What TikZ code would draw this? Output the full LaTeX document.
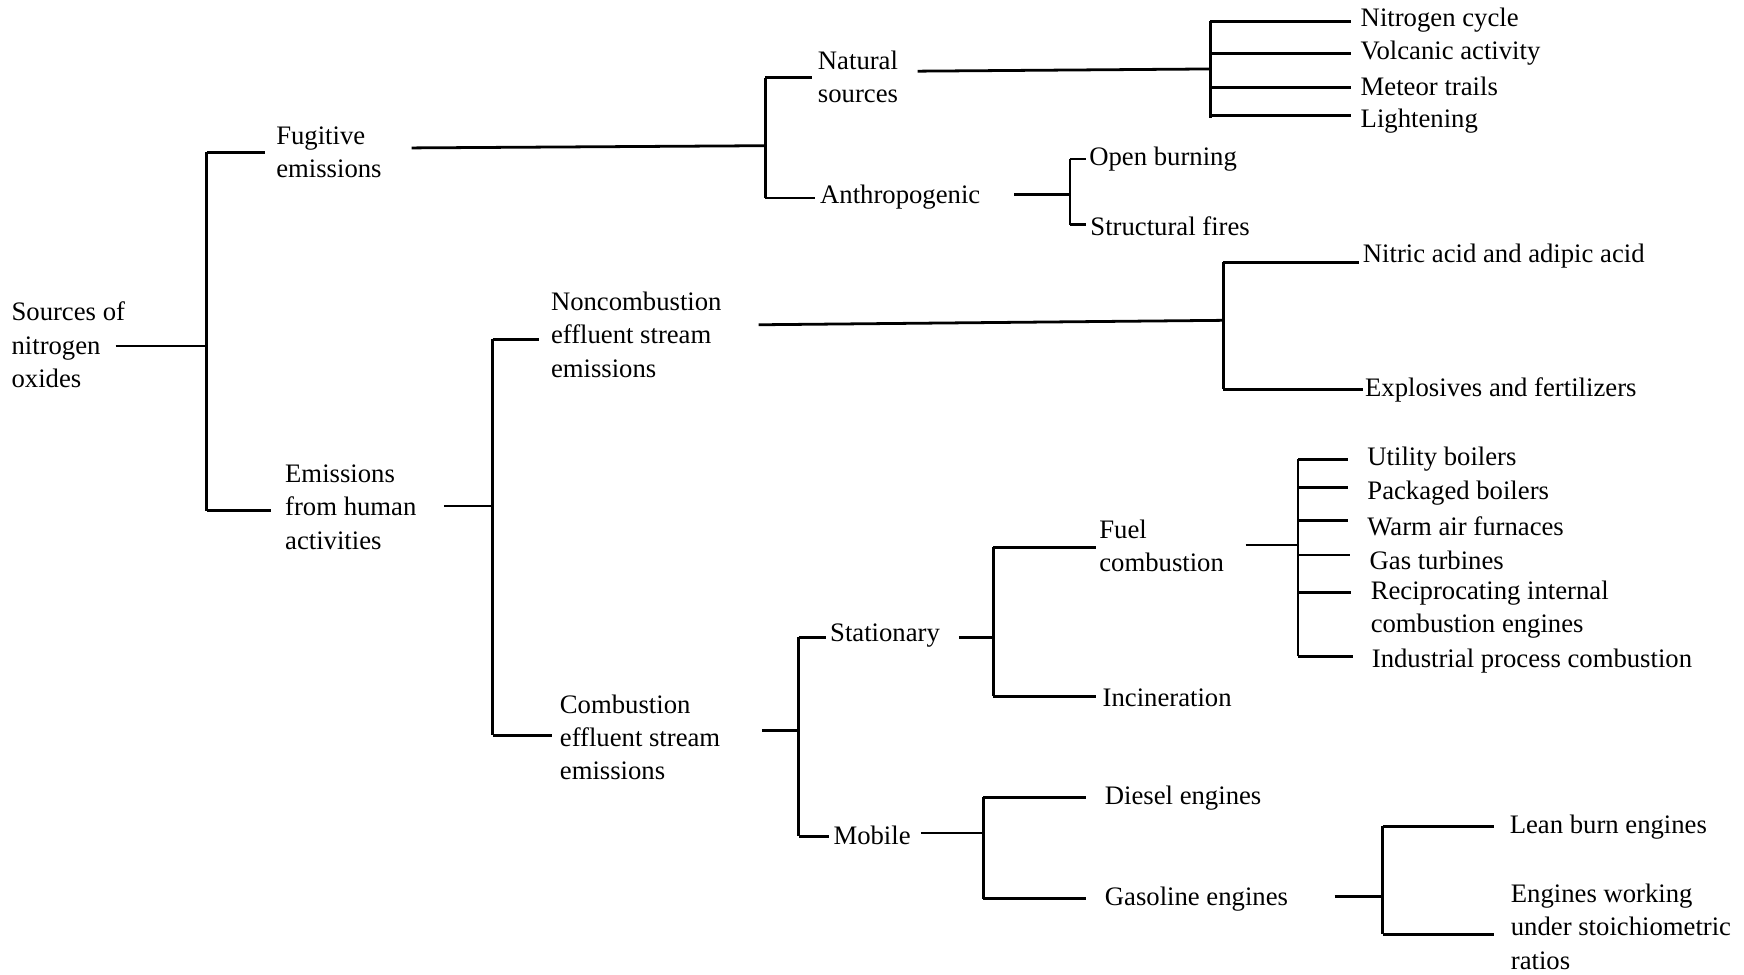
\documentclass[tikz,border=0pt]{standalone}
\usepackage{fontspec}
\setmainfont{Liberation Serif}
\begin{document}
\begin{tikzpicture}[x=0.5pt,y=-0.5pt,
  lbl/.style={anchor=west,inner sep=0pt,align=left,font=\fontsize{12}{15}\selectfont},
  conn/.style={line width=1.25pt,line cap=butt}]
\useasboundingbox[fill=white] (0,0) rectangle (1568,876);
% ---- text nodes ----
\node[lbl] (root) at (10,310) {Sources of\\nitrogen\\oxides};
\node[lbl] (fug) at (248,137) {Fugitive\\emissions};
\node[lbl] (hum) at (256,456) {Emissions\\from human\\activities};
\node[lbl] (nat) at (735,69) {Natural\\sources};
\node[lbl] (ant) at (737,177) {Anthropogenic};
\node[lbl] (n1) at (1223,18) {Nitrogen cycle};
\node[lbl] (n2) at (1223,48) {Volcanic activity};
\node[lbl] (n3) at (1223,78) {Meteor trails};
\node[lbl] (n4) at (1223,109) {Lightening};
\node[lbl] (ob) at (979,143) {Open burning};
\node[lbl] (sf) at (980,203) {Structural fires};
\node[lbl] (nonc) at (495,301) {Noncombustion\\effluent stream\\emissions};
\node[lbl] (comb) at (503,663) {Combustion\\effluent stream\\emissions};
\node[lbl] (nit) at (1225,230) {Nitric acid and adipic acid};
\node[lbl] (expl) at (1227,351) {Explosives and fertilizers};
\node[lbl] (sta) at (746,571) {Stationary};
\node[lbl] (mob) at (749,751) {Mobile};
\node[lbl] (fuel) at (988,491) {Fuel\\combustion};
\node[lbl] (inc) at (991,627) {Incineration};
\node[lbl] (u1) at (1229,413) {Utility boilers};
\node[lbl] (u2) at (1229,443) {Packaged boilers};
\node[lbl] (u3) at (1229,473) {Warm air furnaces};
\node[lbl] (u4) at (1231,504) {Gas turbines};
\node[lbl] (u5) at (1232,548) {Reciprocating internal\\combustion engines};
\node[lbl] (u6) at (1233,594) {Industrial process combustion};
\node[lbl] (die) at (993,718) {Diesel engines};
\node[lbl] (gas) at (993,808) {Gasoline engines};
\node[lbl] (lean) at (1357,744) {Lean burn engines};
\node[lbl] (stoi) at (1358,833) {Engines working\\under stoichiometric\\ratios};
% ---- junctions ----
\coordinate (jr) at (186,311);
\coordinate (jf) at (688,131);
\coordinate (jn) at (1088,62);
\coordinate (ja) at (962,175);
\coordinate (jh) at (443,455);
\coordinate (jnc) at (1100,288);
\coordinate (jc) at (718,657);
\coordinate (js) at (893,573);
\coordinate (jfu) at (1167,490);
\coordinate (jm) at (884,749);
\coordinate (jg) at (1243,806);
% ---- connectors ----
% root
\draw[conn] (104,311) coordinate (r0) -- (jr);
\draw[conn] (jr |- 0,137) -- (jr |- 0,459);
\draw[conn] (jr |- 0,137) -- ([xshift=-5pt]fug.west |- 0,137);
\draw[conn] (jr |- 0,459) -- ([xshift=-6pt]hum.west |- 0,459);
% fugitive
\draw[conn] (370,133) coordinate (f0) -- (jf);
\draw[conn] (jf |- 0,70) -- (jf |- 0,178);
\draw[conn] (jf |- 0,70) -- ([xshift=-2.5pt]nat.west |- 0,70);
\draw[conn] (jf |- 0,178) -- ([xshift=-2pt]ant.west |- 0,178);
% natural
\draw[conn] (825,64) coordinate (na0) -- (jn);
\draw[conn] (jn |- 0,19) -- (jn |- 0,106);
\foreach \c/\yy in {n1/19,n2/48,n3/79,n4/104}
  \draw[conn] (jn |- 0,\yy) -- ([xshift=-4pt]\c.west |- 0,\yy);
% anthropogenic
\draw[conn] (912,175) coordinate (a0) -- (ja);
\draw[conn] (ja |- 0,143) -- (ja |- 0,202);
\draw[conn] (ja |- 0,143) -- ([xshift=-1.5pt]ob.west |- 0,143);
\draw[conn] (ja |- 0,202) -- ([xshift=-2pt]sf.west |- 0,202);
% human activities
\draw[conn] (399,455) coordinate (h0) -- (jh);
\draw[conn] (jh |- 0,305) -- (jh |- 0,661);
\draw[conn] (jh |- 0,305) -- ([xshift=-5pt]nonc.west |- 0,305);
\draw[conn] (jh |- 0,661) -- ([xshift=-3.5pt]comb.west |- 0,661);
% noncombustion
\draw[conn] (682,292) coordinate (nc0) -- (jnc);
\draw[conn] (jnc |- 0,236) -- (jnc |- 0,350);
\draw[conn] (jnc |- 0,236) -- ([xshift=-1.5pt]nit.west |- 0,236);
\draw[conn] (jnc |- 0,350) -- ([xshift=-1pt]expl.west |- 0,350);
% combustion
\draw[conn] (685,657) coordinate (c0) -- (jc);
\draw[conn] (jc |- 0,573) -- (jc |- 0,752);
\draw[conn] (jc |- 0,573) -- ([xshift=-1.5pt]sta.west |- 0,573);
\draw[conn] (jc |- 0,752) -- ([xshift=-2pt]mob.west |- 0,752);
% stationary
\draw[conn] (862,573) coordinate (s0) -- (js);
\draw[conn] (js |- 0,492) -- (js |- 0,626);
\draw[conn] (js |- 0,492) -- ([xshift=-1.5pt]fuel.west |- 0,492);
\draw[conn] (js |- 0,626) -- ([xshift=-3pt]inc.west |- 0,626);
% fuel combustion
\draw[conn] (1120,490) coordinate (fu0) -- (jfu);
\draw[conn] (jfu |- 0,413) -- (jfu |- 0,590);
\foreach \c/\yy in {u1/413,u2/438,u3/468,u4/499,u5/533,u6/590}
  \draw[conn] (jfu |- 0,\yy) -- ([xshift=-8.5pt]\c.west |- 0,\yy);
% mobile
\draw[conn] (828,749) coordinate (m0) -- (jm);
\draw[conn] (jm |- 0,717) -- (jm |- 0,808);
\draw[conn] (jm |- 0,717) -- ([xshift=-8.5pt]die.west |- 0,717);
\draw[conn] (jm |- 0,808) -- ([xshift=-8.5pt]gas.west |- 0,808);
% gasoline
\draw[conn] (1200,806) coordinate (g0) -- (jg);
\draw[conn] (jg |- 0,743) -- (jg |- 0,840);
\draw[conn] (jg |- 0,743) -- ([xshift=-7pt]lean.west |- 0,743);
\draw[conn] (jg |- 0,840) -- ([xshift=-7.5pt]stoi.west |- 0,840);
\end{tikzpicture}
\end{document}
